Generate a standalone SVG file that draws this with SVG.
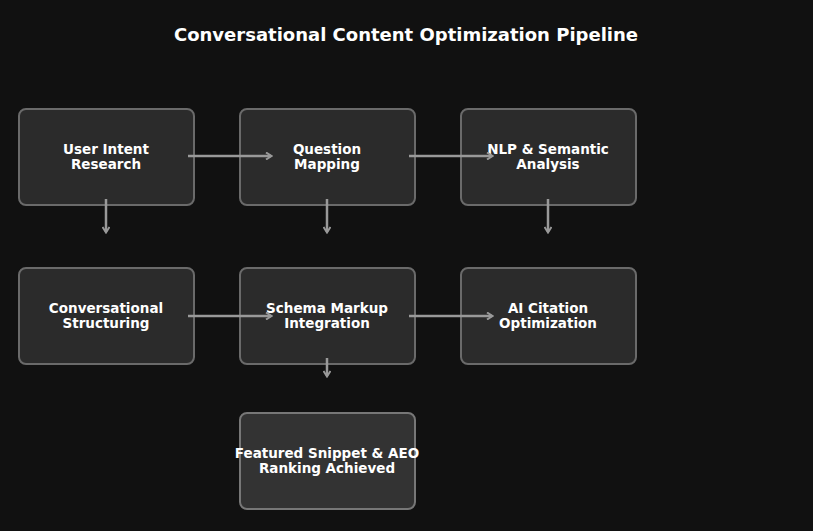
<svg xmlns="http://www.w3.org/2000/svg" width="813" height="531" viewBox="0 0 813 531">
<style>
.box{fill:#2b2b2b;stroke:#6a6a6a;stroke-width:2}
.fin{fill:#333;stroke:#777;stroke-width:2}
.t{font-family:"DejaVu Sans",sans-serif;font-weight:bold;font-size:13.5px;fill:#fff;text-anchor:middle}
.c{stroke:#999;stroke-width:2.5;fill:none;marker-end:url(#a)}
</style>
<defs><marker id="a" markerWidth="8" markerHeight="8" refX="6" refY="4" orient="auto" markerUnits="userSpaceOnUse"><path d="M1,0.5 L6.5,4 L1,7.5" fill="none" stroke="#999" stroke-width="2"/></marker></defs>
<rect width="813" height="531" fill="#111"/>
<text x="406" y="41" font-family="DejaVu Sans,sans-serif" font-weight="bold" font-size="18" fill="#fff" text-anchor="middle">Conversational Content Optimization Pipeline</text>
<g id="n1"><rect class="box" x="19" y="109" width="175" height="96" rx="7"/><text class="t" x="106" y="154">User Intent</text><text class="t" x="106" y="169">Research</text></g>
<g id="n2"><rect class="box" x="240" y="109" width="175" height="96" rx="7"/><text class="t" x="327" y="154">Question</text><text class="t" x="327" y="169">Mapping</text></g>
<g id="n3"><rect class="box" x="461" y="109" width="175" height="96" rx="7"/><text class="t" x="548" y="154">NLP &amp; Semantic</text><text class="t" x="548" y="169">Analysis</text></g>
<g id="n4"><rect class="box" x="19" y="268" width="175" height="96" rx="7"/><text class="t" x="106" y="313">Conversational</text><text class="t" x="106" y="328">Structuring</text></g>
<g id="n5"><rect class="box" x="240" y="268" width="175" height="96" rx="7"/><text class="t" x="327" y="313">Schema Markup</text><text class="t" x="327" y="328">Integration</text></g>
<g id="n6"><rect class="box" x="461" y="268" width="175" height="96" rx="7"/><text class="t" x="548" y="313">AI Citation</text><text class="t" x="548" y="328">Optimization</text></g>
<g id="n7"><rect class="fin" x="240" y="413" width="175" height="96" rx="7"/><text class="t" x="327" y="458">Featured Snippet &amp; AEO</text><text class="t" x="327" y="473">Ranking Achieved</text></g>
<g id="connectors">
<path class="c" d="M188,156H271"/><path class="c" d="M409,156H492"/>
<path class="c" d="M106,199V232"/><path class="c" d="M327,199V232"/><path class="c" d="M548,199V232"/>
<path class="c" d="M188,316H271"/><path class="c" d="M409,316H492"/>
<path class="c" d="M327,358V376"/>
</g>
</svg>
